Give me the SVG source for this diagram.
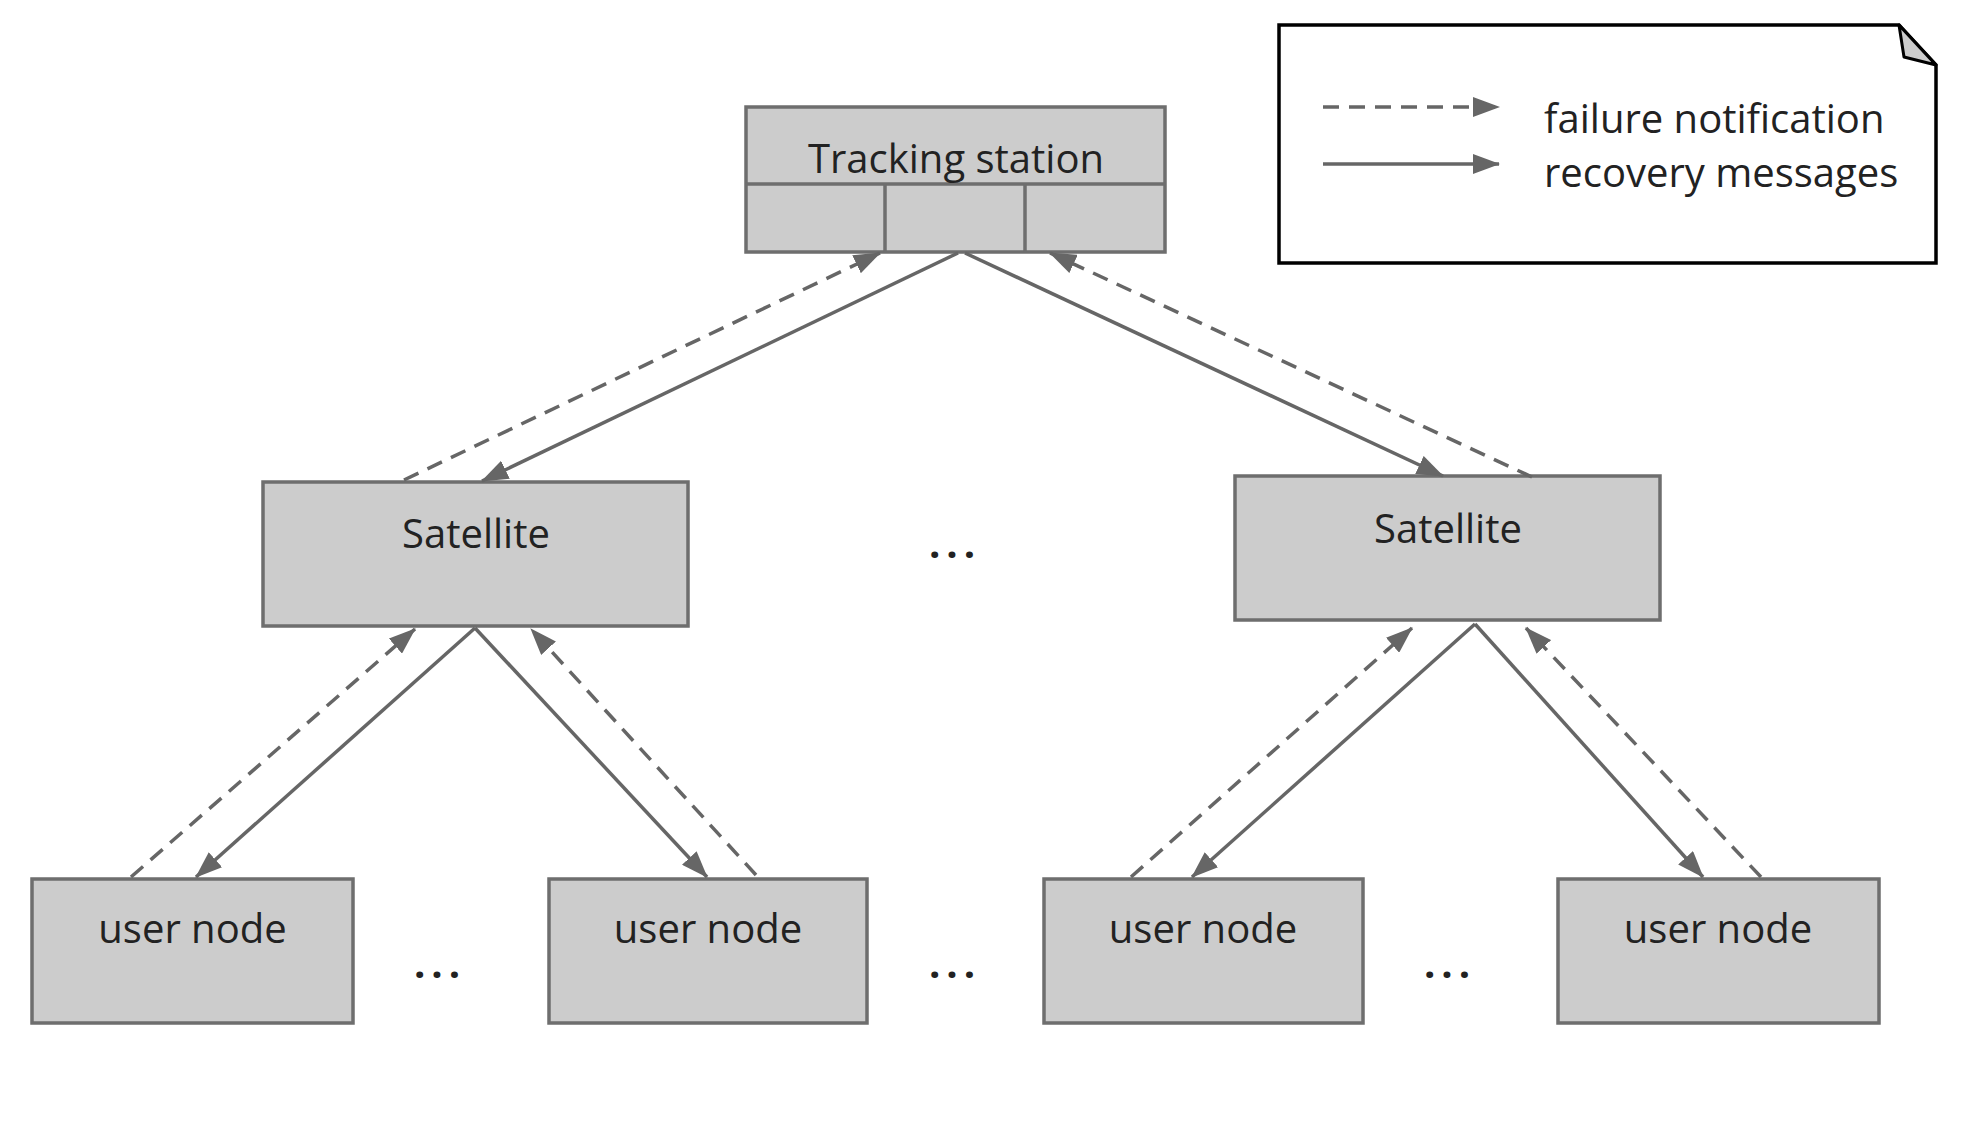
<svg xmlns="http://www.w3.org/2000/svg" width="1964" height="1127" viewBox="0 0 1964 1127">
<style>
.box{fill:#cccccc;stroke:#6e6e6e;stroke-width:3.5}
.div{stroke:#6e6e6e;stroke-width:3.5}
.lbl{font-family:"Open Sans","DejaVu Sans",sans-serif;font-size:40px;fill:#222;text-anchor:middle}
.ltxt{font-family:"Open Sans","DejaVu Sans",sans-serif;font-size:40px;fill:#222}
.dots{font-family:"Open Sans","DejaVu Sans",sans-serif;font-size:40px;font-weight:bold;fill:#222;text-anchor:middle;letter-spacing:6px}
.sol{stroke:#666;stroke-width:3.5;fill:none;marker-end:url(#ah)}
.dsh{stroke:#666;stroke-width:3.5;fill:none;stroke-dasharray:16 10;marker-end:url(#ah)}
</style>
<defs>
<marker id="ah" markerUnits="userSpaceOnUse" markerWidth="27" markerHeight="20" refX="26" refY="10" orient="auto">
<path d="M0,0 L27,10 L0,20 Z" fill="#666"/>
</marker>
</defs>
<rect width="1964" height="1127" fill="#fff"/>
<g id="tracking">
<rect class="box" x="746" y="107" width="419" height="145"/>
<line class="div" x1="746" y1="184" x2="1165" y2="184"/>
<line class="div" x1="885" y1="184" x2="885" y2="252"/>
<line class="div" x1="1025" y1="184" x2="1025" y2="252"/>
<text class="lbl" x="956" y="173">Tracking station</text>
</g>
<g id="sat-left">
<rect class="box" x="263" y="482" width="425" height="144"/>
<text class="lbl" x="476" y="548">Satellite</text>
</g>
<g id="sat-right">
<rect class="box" x="1235" y="476" width="425" height="144"/>
<text class="lbl" x="1448" y="543">Satellite</text>
</g>
<g id="user1">
<rect class="box" x="32" y="879" width="321" height="144"/>
<text class="lbl" x="192.5" y="943">user node</text>
</g>
<g id="user2">
<rect class="box" x="549" y="879" width="318" height="144"/>
<text class="lbl" x="708" y="943">user node</text>
</g>
<g id="user3">
<rect class="box" x="1044" y="879" width="319" height="144"/>
<text class="lbl" x="1203" y="943">user node</text>
</g>
<g id="user4">
<rect class="box" x="1558" y="879" width="321" height="144"/>
<text class="lbl" x="1718" y="943">user node</text>
</g>
<g id="ellipses">
<text class="dots" x="440" y="978">...</text>
<text class="dots" x="955" y="978">...</text>
<text class="dots" x="1450" y="978">...</text>
<text class="dots" x="955" y="558">...</text>
</g>
<g id="connectors">
<line class="sol" x1="958" y1="253" x2="482" y2="481"/>
<line class="dsh" x1="404" y1="480" x2="880" y2="253"/>
<line class="sol" x1="965" y1="253" x2="1443" y2="476"/>
<line class="dsh" x1="1532" y1="477" x2="1050" y2="253"/>
<line class="sol" x1="475" y1="628" x2="196" y2="877"/>
<line class="dsh" x1="131" y1="877" x2="415" y2="629"/>
<line class="sol" x1="475" y1="628" x2="707" y2="877"/>
<line class="dsh" x1="756" y1="875" x2="531" y2="629"/>
<line class="sol" x1="1475" y1="624" x2="1192" y2="877"/>
<line class="dsh" x1="1131" y1="877" x2="1412" y2="628"/>
<line class="sol" x1="1475" y1="624" x2="1703" y2="877"/>
<line class="dsh" x1="1761" y1="877" x2="1526" y2="628"/>
</g>
<g id="legend">
<path d="M1279,25 L1899,25 L1936,65 L1936,263 L1279,263 Z" fill="#fff" stroke="#000" stroke-width="3.5"/>
<path d="M1899,25 L1904,57 L1936,65 Z" fill="#ccc" stroke="#000" stroke-width="3" stroke-linejoin="round"/>
<line class="dsh" x1="1323" y1="107" x2="1499" y2="107"/>
<line class="sol" x1="1323" y1="164" x2="1499" y2="164"/>
<text class="ltxt" x="1544" y="133">failure notification</text>
<text class="ltxt" x="1544" y="187">recovery messages</text>
</g>
</svg>
